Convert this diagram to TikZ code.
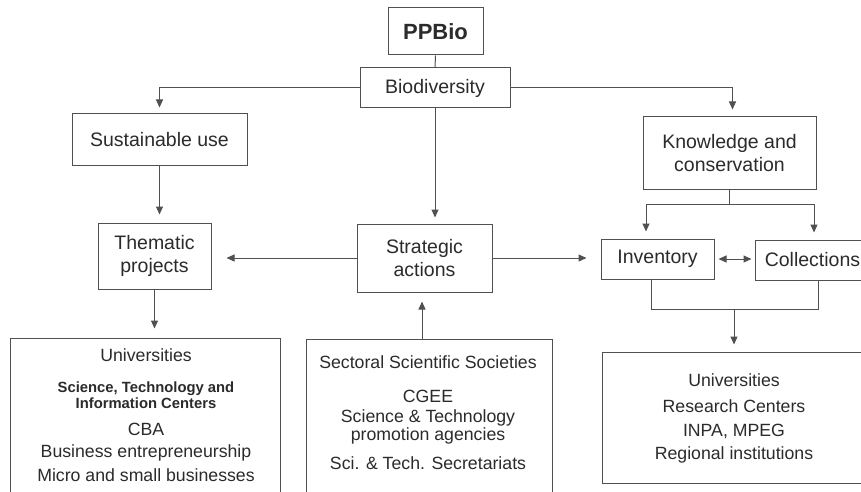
\documentclass[tikz,border=0pt]{standalone}
\usepackage{fontspec}
\setmainfont{Liberation Sans}
\usetikzlibrary{arrows.meta,calc}
\definecolor{ln}{HTML}{505050}
\definecolor{tx}{HTML}{2B2B2B}
\begin{document}
\begin{tikzpicture}[x=1pt,y=-1pt,
 box/.style={draw=ln,line width=1pt,rectangle,inner sep=0pt,align=center,text=tx,font=\fontsize{19.5}{23}\selectfont},
 lst/.style={text=tx,font=\fontsize{17.7}{20}\selectfont,inner sep=0pt},
 sub/.style={text=tx,font=\bfseries\fontsize{14.8}{16}\selectfont,inner sep=0pt,align=center},
 con/.style={draw=ln,line width=1pt},
 tip/.tip={Triangle[width=7pt,length=8pt]},
 arr/.style={con,-tip,shorten >=7pt},
]
\useasboundingbox (0,0) rectangle (861,492);
\fill[white] (0,0) rectangle (861,492);
\clip (0,0) rectangle (861,492);

% main boxes
\node[box,minimum width=95pt,minimum height=47pt,font=\bfseries\fontsize{22}{26}\selectfont] (ppbio) at (435.5,31.5) {PPBio};
\node[box,minimum width=150pt,minimum height=40pt] (bio) at (435,88) {Biodiversity};
\node[box,minimum width=175pt,minimum height=51pt] (sust) at (159.5,139.5) {Sustainable use};
\node[box,minimum width=173pt,minimum height=72pt] (know) at (729.5,153) {Knowledge and\\conservation};
\node[box,minimum width=113pt,minimum height=66pt] (them) at (154.5,256) {Thematic\\projects};
\node[box,minimum width=135pt,minimum height=68pt] (strat) at (424.5,258) {Strategic\\actions};
\node[box,minimum width=113pt,minimum height=40pt] (inv) at (657.5,259) {Inventory};
\node[box,minimum width=115pt,minimum height=40pt] (coll) at (812.5,260) {Collections};

% bottom boxes
\node[box,minimum width=270pt,minimum height=182pt] (botL) at (145,429) {};
\node[box,minimum width=246pt,minimum height=181pt] (botM) at (429,429.5) {};
\node[box,minimum width=266pt,minimum height=131pt] (botR) at (735,417.5) {};

% bottom left texts
\node[lst] (l1) at (146,355) {Universities};
\node[sub] (l2) at (146,395) {Science, Technology and\\Information Centers};
\node[lst] (l3) at (146,429) {CBA};
\node[lst] (l4) at (146,453) {Business entrepreneurship};
\node[lst] (l5) at (146,475) {Micro and small businesses};

% bottom middle texts
\node[lst] (m1) at (428,362) {Sectoral Scientific Societies};
\node[lst] (m2) at (428,396) {CGEE};
\node[lst] (m3) at (428,418) {Science \& Technology};
\node[lst] (m4) at (428,436) {promotion agencies};
\node[lst] (m5) at (428,463) {Sci. \& Tech. Secretariats};

% bottom right texts
\node[lst] (r1) at (734,380) {Universities};
\node[lst] (r2) at (734,406) {Research Centers};
\node[lst] (r3) at (734,431) {INPA, MPEG};
\node[lst] (r4) at (734,455) {Regional institutions};

% connectors
\draw[con] (ppbio.south) -- (bio.north);
\draw[arr,shorten >=6pt] (bio.west) -| (sust.north);
\draw[arr] (bio.east) -| ([xshift=3pt]know.north);
\draw[arr,shorten >=6pt] (bio.south) -- (bio.south |- strat.north);
\draw[arr,shorten >=8pt] (sust.south) -- (sust.south |- them.north);
\draw[arr,shorten >=15pt] (strat.west) -- (strat.west -| them.east);
\draw[arr,shorten >=14pt] (strat.east) -- (strat.east -| inv.west);
\draw[arr,shorten >=9pt] (them.south) -- (them.south |- botL.north);
\draw[arr,shorten >=9pt] ([xshift=-2.5pt]strat.south |- botM.north) -- ([xshift=-2.5pt]strat.south);

\coordinate (kl) at (646,204);
\coordinate (kr) at (814,204);
\draw[con] (know.south) -- (know.south |- kl);
\draw[con] (kl) -- (kr);
\draw[arr,shorten >=7pt] (kl) -- (kl |- inv.north);
\draw[arr,shorten >=7pt] (kr) -- (kr |- coll.north);

\draw[con,tip-tip,shorten <=4pt,shorten >=3pt] (inv.east) -- (inv.east -| coll.west);

\coordinate (il) at (651,309);
\coordinate (ir) at (818,309);
\coordinate (im) at (734,309);
\draw[con] (il |- inv.south) -- (il) -- (ir) -- (ir |- coll.south);
\draw[arr,shorten >=7pt] (im) -- (im |- botR.north);
\end{tikzpicture}
\end{document}
